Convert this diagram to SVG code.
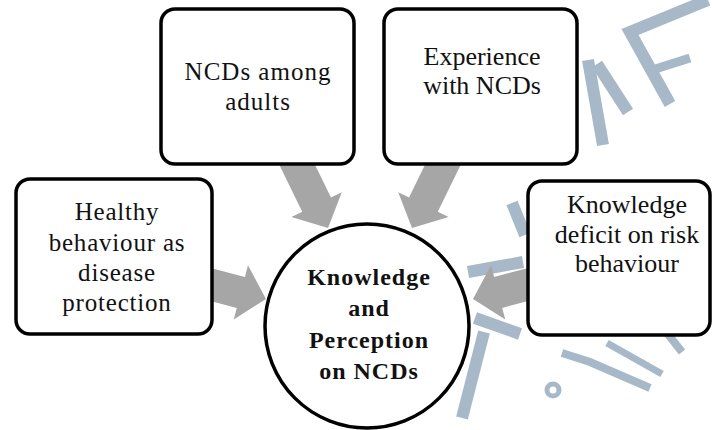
<svg xmlns="http://www.w3.org/2000/svg" width="712" height="430" viewBox="0 0 712 430">
  <style>
    .box { fill: #ffffff; stroke: #000000; stroke-width: 3.5; }
    .hub { fill: #ffffff; stroke: #000000; stroke-width: 3.5; }
    .arrow { fill: #a6a6a6; }
    .lbl { font-family: "Liberation Serif", "Times New Roman", serif; fill: #111111; text-anchor: middle; }
    .wm { fill: none; stroke: #a7b9c9; stroke-width: 12; stroke-linecap: butt; stroke-linejoin: miter; }
  </style>
  <defs>
    <!-- block arrow, tip at origin, pointing along +x -->
    <path id="blockArrow" d="M0,0 L-26,-28 L-26,-16 L-95,-16 L-95,16 L-26,16 L-26,28 Z"/>
  </defs>

  <rect width="712" height="430" fill="#ffffff"/>

  <!-- faint background emblem strokes -->
  <g id="watermark" class="wm">
    <path d="M708,0 L630,32 L670,104"/>
    <path d="M652,70 L690,58" stroke-width="9"/>
    <path d="M588,60 L603,145"/>
    <path d="M597,64 L628,112"/>
    <path d="M468,272 L523,262"/>
    <path d="M512,203 L525,235"/>
    <path d="M475,318 L520,334"/>
    <path d="M484,332 L462,418"/>
    <path d="M562,353 L590,362 L650,388" stroke-width="8"/>
    <path d="M607,343 L662,374" stroke-width="7"/>
    <circle cx="553" cy="390" r="6" stroke-width="5"/>
    <path d="M667,333 L682,352" stroke-width="8"/>
  </g>

  <g id="connectors">
    <use href="#blockArrow" class="arrow" transform="translate(328,228) rotate(64)"/>
    <use href="#blockArrow" class="arrow" transform="translate(412,228) rotate(116)"/>
    <use href="#blockArrow" class="arrow" transform="translate(266,299) rotate(14.7)"/>
    <use href="#blockArrow" class="arrow" transform="translate(473,299) rotate(165.3)"/>
  </g>

  <g id="node-ncds-adults">
    <rect class="box" x="161" y="9" width="193" height="155" rx="14"/>
    <text class="lbl" font-size="25" letter-spacing="1" x="258" y="80">NCDs among</text>
    <text class="lbl" font-size="25" letter-spacing="1" x="258" y="110">adults</text>
  </g>

  <g id="node-experience">
    <rect class="box" x="384" y="9" width="193" height="155" rx="14"/>
    <text class="lbl" font-size="26" x="482" y="65">Experience</text>
    <text class="lbl" font-size="26" x="482" y="94">with NCDs</text>
  </g>

  <g id="node-healthy-behaviour">
    <rect class="box" x="16" y="179" width="196" height="155" rx="14"/>
    <text class="lbl" font-size="25" letter-spacing="0.8" x="117" y="220">Healthy</text>
    <text class="lbl" font-size="25" letter-spacing="0.8" x="117" y="251">behaviour as</text>
    <text class="lbl" font-size="25" letter-spacing="0.8" x="117" y="281">disease</text>
    <text class="lbl" font-size="25" letter-spacing="0.8" x="117" y="311">protection</text>
  </g>

  <g id="node-knowledge-deficit">
    <rect class="box" x="528" y="181" width="182" height="154" rx="14"/>
    <text class="lbl" font-size="26" x="627" y="213">Knowledge</text>
    <text class="lbl" font-size="26" x="627" y="243">deficit on risk</text>
    <text class="lbl" font-size="26" x="627" y="272">behaviour</text>
  </g>

  <g id="node-knowledge-perception">
    <circle class="hub" cx="367" cy="326" r="102"/>
    <text class="lbl" font-size="24" font-weight="bold" letter-spacing="1" x="369" y="285">Knowledge</text>
    <text class="lbl" font-size="24" font-weight="bold" letter-spacing="1" x="369" y="316">and</text>
    <text class="lbl" font-size="24" font-weight="bold" letter-spacing="1" x="369" y="348">Perception</text>
    <text class="lbl" font-size="24" font-weight="bold" letter-spacing="1" x="369" y="379">on NCDs</text>
  </g>
</svg>
